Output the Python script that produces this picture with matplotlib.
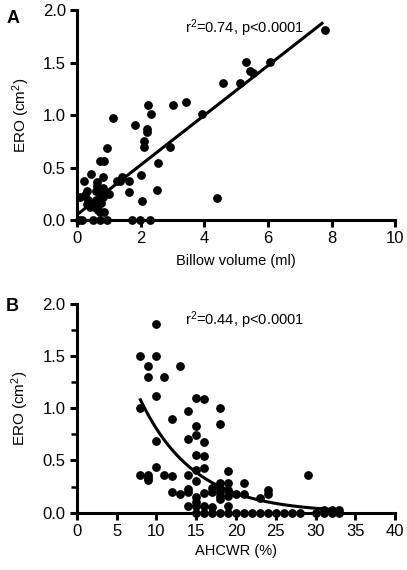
import numpy as np
import matplotlib
matplotlib.use('Agg')
import matplotlib.pyplot as plt
from matplotlib.ticker import FormatStrFormatter, MultipleLocator

plt.rcParams['font.family'] = ['Liberation Sans', 'DejaVu Sans']
plt.rcParams['mathtext.default'] = 'regular'

# Panel A: billow volume (ml) vs ERO (cm2)
billow_x = [7.8, 6.07, 5.3, 5.45, 5.52, 4.6, 5.13, 3.92, 3.43, 3.03, 2.24, 2.32,
            1.12, 1.81, 2.2, 2.2, 2.11, 2.11, 2.92, 0.93, 0.72, 0.85, 2.54, 0.43,
            0.83, 2.01, 1.43, 1.25, 1.36, 1.64, 0.22, 0.62, 0.62, 0.6, 0.83, 0.32,
            2.53, 1.64, 1.02, 0.72, 0.09, 0.25, 2.03, 4.41, 0.36, 0.44, 0.32, 0.47,
            0.59, 0.72, 0.75, 0.59, 0.41, 0.65, 0.85, 0.72, 0.05, 0.15, 0.51, 0.72,
            0.93, 1.72, 1.98, 2.30, 0.83]
billow_ero = [1.81, 1.51, 1.51, 1.42, 1.40, 1.31, 1.31, 1.01, 1.13, 1.10, 1.10, 1.01,
              0.97, 0.91, 0.87, 0.84, 0.75, 0.70, 0.70, 0.69, 0.56, 0.56, 0.54, 0.44,
              0.41, 0.43, 0.41, 0.37, 0.37, 0.37, 0.37, 0.36, 0.32, 0.28, 0.31, 0.28,
              0.29, 0.27, 0.25, 0.25, 0.22, 0.24, 0.18, 0.21, 0.19, 0.16, 0.15, 0.13,
              0.19, 0.18, 0.16, 0.11, 0.12, 0.10, 0.08, 0.08, 0.0, 0.0, 0.0, 0.0,
              0.0, 0.0, 0.0, 0.0, 0.22]
fit_a_slope = 0.237
fit_a_intercept = 0.05
fit_a_range = [0, 7.7]

# Panel B: AHCWR (%) vs ERO (cm2)
ahcwr_x = [10, 8, 10, 9, 13, 9, 11, 10, 8, 14, 15, 16, 18, 18, 12, 15, 15, 14, 10, 16,
           15, 16, 16, 10, 15, 8, 9, 9, 9, 11, 12, 14, 19, 15, 14, 14, 12, 13, 16, 17,
           17, 18, 18, 18, 18, 18, 19, 19, 19, 15, 14, 15, 15, 16, 17, 19, 29, 21, 20,
           21, 24, 24, 23, 31, 32, 33,
           15, 16, 17, 18, 19, 20, 21, 22, 23, 24, 25, 26, 27, 28, 30, 31, 32, 33]
ahcwr_ero = [1.8, 1.5, 1.5, 1.4, 1.4, 1.3, 1.3, 1.12, 1.0, 0.97, 1.1, 1.09, 1.0, 0.85,
             0.9, 0.83, 0.74, 0.7, 0.69, 0.68, 0.55, 0.54, 0.43, 0.44, 0.41, 0.36, 0.36,
             0.33, 0.31, 0.36, 0.35, 0.36, 0.4, 0.3, 0.23, 0.2, 0.2, 0.18, 0.19, 0.24,
             0.2, 0.28, 0.24, 0.2, 0.16, 0.13, 0.28, 0.22, 0.16, 0.15, 0.06, 0.1, 0.06,
             0.06, 0.05, 0.06, 0.36, 0.28, 0.18, 0.18, 0.22, 0.18, 0.14, 0.03, 0.03, 0.03,
             0, 0, 0, 0, 0, 0, 0, 0, 0, 0, 0, 0, 0, 0, 0, 0, 0, 0]
fit_b_amp = 3.5
fit_b_rate = 0.147
fit_b_range = [8, 33]

fig = plt.figure(figsize=(4.07, 5.70), dpi=100)
axA = fig.add_axes([0.189, 0.614, 0.782, 0.368])
axB = fig.add_axes([0.1885, 0.1005, 0.7825, 0.367])

def estilo(ax):
    for s in ['top', 'right']:
        ax.spines[s].set_visible(False)
    for s in ['left', 'bottom']:
        ax.spines[s].set_linewidth(2.2)
    ax.tick_params(which='major', direction='out', length=5, width=2.2, labelsize=12, pad=3)
    ax.tick_params(which='minor', direction='out', length=4, width=1.8)
    ax.set_ylim(0, 2.0)
    ax.yaxis.set_major_locator(MultipleLocator(0.5))
    ax.yaxis.set_major_formatter(FormatStrFormatter('%.1f'))
    ax.set_ylabel('ERO (cm$^2$)', fontsize=11, labelpad=8)

# A
estilo(axA)
axA.set_xlim(0, 10)
axA.xaxis.set_major_locator(MultipleLocator(2))
axA.scatter(billow_x, billow_ero, s=28, color='black', zorder=5, clip_on=False)
xa = np.array(fit_a_range)
axA.plot(xa, fit_a_intercept + fit_a_slope * xa, color='black', lw=2.2, zorder=4)
axA.set_xlabel('Billow volume (ml)', fontsize=10.5, labelpad=6)
axA.text(3.4, 1.83, 'r$^2$=0.74, p<0.0001', fontsize=10.5, va='center')

# B
estilo(axB)
axB.set_xlim(0, 40)
axB.xaxis.set_major_locator(MultipleLocator(5))
axB.yaxis.set_minor_locator(MultipleLocator(0.25))
axB.scatter(ahcwr_x, ahcwr_ero, s=28, color='black', zorder=5, clip_on=False)
xb = np.linspace(fit_b_range[0], fit_b_range[1], 200)
axB.plot(xb, fit_b_amp * np.exp(-fit_b_rate * xb), color='black', lw=2.2, zorder=4)
axB.set_xlabel('AHCWR (%)', fontsize=10.5, labelpad=4)
axB.text(13.6, 1.84, 'r$^2$=0.44, p<0.0001', fontsize=10.5, va='center')

fig.text(0.015, 0.982, 'A', fontsize=13, fontweight='bold', va='top')
fig.text(0.015, 0.477, 'B', fontsize=13, fontweight='bold', va='top')

plt.savefig('out.png', dpi=100)
